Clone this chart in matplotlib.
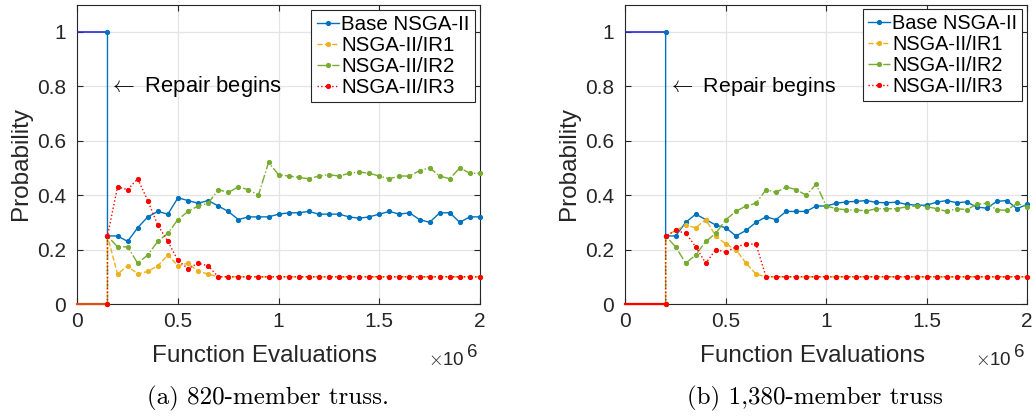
import matplotlib.pyplot as plt
from matplotlib.ticker import FixedLocator, FuncFormatter

# -----------------------------------------
# Data (function evaluations in millions)
# -----------------------------------------

# (a) 820-member truss, repair begins at 0.15e6
evals_a = [0.15, 0.20, 0.25, 0.30, 0.35, 0.40, 0.45, 0.50, 0.55, 0.60,
           0.65, 0.70, 0.75, 0.80, 0.85, 0.90, 0.95, 1.00, 1.05, 1.10,
           1.15, 1.20, 1.25, 1.30, 1.35, 1.40, 1.45, 1.50, 1.55, 1.60,
           1.65, 1.70, 1.75, 1.80, 1.85, 1.90, 1.95, 2.00]
base_a = [0.25, 0.25, 0.23, 0.28, 0.32, 0.34, 0.33, 0.39, 0.38, 0.37,
          0.38, 0.36, 0.34, 0.31, 0.32, 0.32, 0.32, 0.33, 0.335, 0.335,
          0.34, 0.33, 0.33, 0.33, 0.32, 0.315, 0.32, 0.33, 0.34, 0.33,
          0.335, 0.31, 0.30, 0.335, 0.335, 0.30, 0.32, 0.32]
ir1_a = [0.25, 0.11, 0.14, 0.11, 0.12, 0.14, 0.18, 0.14, 0.15, 0.12,
         0.11, 0.10, 0.10, 0.10, 0.10, 0.10, 0.10, 0.10, 0.10, 0.10,
         0.10, 0.10, 0.10, 0.10, 0.10, 0.10, 0.10, 0.10, 0.10, 0.10,
         0.10, 0.10, 0.10, 0.10, 0.10, 0.10, 0.10, 0.10]
ir2_a = [0.25, 0.21, 0.21, 0.15, 0.18, 0.23, 0.26, 0.31, 0.34, 0.36,
         0.37, 0.42, 0.41, 0.43, 0.42, 0.40, 0.52, 0.475, 0.47, 0.465,
         0.46, 0.47, 0.475, 0.47, 0.48, 0.485, 0.48, 0.47, 0.46, 0.47,
         0.47, 0.49, 0.50, 0.47, 0.46, 0.50, 0.48, 0.48]
ir3_a = [0.25, 0.43, 0.42, 0.46, 0.38, 0.29, 0.23, 0.16, 0.13, 0.15,
         0.14, 0.10, 0.10, 0.10, 0.10, 0.10, 0.10, 0.10, 0.10, 0.10,
         0.10, 0.10, 0.10, 0.10, 0.10, 0.10, 0.10, 0.10, 0.10, 0.10,
         0.10, 0.10, 0.10, 0.10, 0.10, 0.10, 0.10, 0.10]

# (b) 1,380-member truss, repair begins at 0.2e6
evals_b = [0.20, 0.25, 0.30, 0.35, 0.40, 0.45, 0.50, 0.55, 0.60, 0.65,
           0.70, 0.75, 0.80, 0.85, 0.90, 0.95, 1.00, 1.05, 1.10, 1.15,
           1.20, 1.25, 1.30, 1.35, 1.40, 1.45, 1.50, 1.55, 1.60, 1.65,
           1.70, 1.75, 1.80, 1.85, 1.90, 1.95, 2.00]
base_b = [0.25, 0.25, 0.30, 0.33, 0.31, 0.29, 0.28, 0.25, 0.27, 0.30,
          0.32, 0.31, 0.34, 0.34, 0.34, 0.36, 0.36, 0.37, 0.375, 0.377,
          0.38, 0.373, 0.372, 0.374, 0.366, 0.363, 0.363, 0.374, 0.38, 0.372,
          0.375, 0.356, 0.352, 0.377, 0.38, 0.35, 0.366]
ir1_b = [0.25, 0.27, 0.29, 0.28, 0.31, 0.25, 0.22, 0.20, 0.15, 0.11,
         0.10, 0.10, 0.10, 0.10, 0.10, 0.10, 0.10, 0.10, 0.10, 0.10,
         0.10, 0.10, 0.10, 0.10, 0.10, 0.10, 0.10, 0.10, 0.10, 0.10,
         0.10, 0.10, 0.10, 0.10, 0.10, 0.10, 0.10]
ir2_b = [0.25, 0.21, 0.15, 0.18, 0.23, 0.26, 0.31, 0.34, 0.36, 0.37,
         0.42, 0.41, 0.43, 0.42, 0.40, 0.44, 0.36, 0.35, 0.346, 0.345,
         0.342, 0.35, 0.35, 0.35, 0.357, 0.36, 0.358, 0.35, 0.34, 0.35,
         0.347, 0.366, 0.37, 0.346, 0.344, 0.37, 0.357]
ir3_b = [0.25, 0.27, 0.26, 0.21, 0.15, 0.20, 0.19, 0.21, 0.22, 0.22,
         0.10, 0.10, 0.10, 0.10, 0.10, 0.10, 0.10, 0.10, 0.10, 0.10,
         0.10, 0.10, 0.10, 0.10, 0.10, 0.10, 0.10, 0.10, 0.10, 0.10,
         0.10, 0.10, 0.10, 0.10, 0.10, 0.10, 0.10]

# probability of each operator before repair starts
pre_prob = [1.0, 0.0, 0.0, 0.0]

labels = ['Base NSGA-II', 'NSGA-II/IR1', 'NSGA-II/IR2', 'NSGA-II/IR3']
colors = ['#0072BD', '#EDB120', '#77AC30', '#FF0000']
styles = ['-', '--', '-.', ':']
captions = ['(a) 820-member truss.', '(b) 1,380-member truss']

x_ticks = [0, 0.5, 1, 1.5, 2]
y_ticks = [0, 0.2, 0.4, 0.6, 0.8, 1]

# -----------------------------------------
# Figure
# -----------------------------------------

plt.rcParams['font.family'] = ['Liberation Sans', 'DejaVu Sans']
plt.rcParams['mathtext.fontset'] = 'cm'

fig = plt.figure(figsize=(10.33, 4.18), dpi=100)
ax_a = fig.add_axes([0.0748, 0.2727, 0.3898, 0.7165])
ax_b = fig.add_axes([0.6055, 0.2727, 0.3887, 0.7165])

panels = [
    (ax_a, evals_a, [base_a, ir1_a, ir2_a, ir3_a], 14.8, 15.8, '#D95319'),
    (ax_b, evals_b, [base_b, ir1_b, ir2_b, ir3_b], 14.3, 15.4, '#FF0000'),
]

for i, (ax, ev, series, leg_fs, rep_fs, zero_col) in enumerate(panels):
    start = ev[0]

    # flat part before repair begins
    ax.plot([0, start], [pre_prob[0], pre_prob[0]], color='#2a2ad8',
            linewidth=1.2, zorder=3)
    ax.plot([0, start], [0, 0], color=zero_col, linewidth=1.6,
            clip_on=False, zorder=3)

    for k, ys in enumerate(series):
        ax.plot([start] + ev, [pre_prob[k]] + ys, linestyle=styles[k],
                color=colors[k], marker='.', markersize=5.5, linewidth=1.0,
                label=labels[k], clip_on=False, zorder=4)

    ax.set_xlim(0, 2)
    ax.set_ylim(0, 1.1)
    ax.xaxis.set_major_locator(FixedLocator(x_ticks))
    ax.yaxis.set_major_locator(FixedLocator(y_ticks))
    ax.xaxis.set_major_formatter(FuncFormatter(lambda v, p: f'{v:g}'))
    ax.yaxis.set_major_formatter(FuncFormatter(lambda v, p: f'{v:g}'))
    ax.tick_params(direction='in', top=True, right=True, labelsize=15,
                   length=4, width=0.8, color='#262626', labelcolor='#262626')
    ax.tick_params(axis='x', pad=6)
    ax.tick_params(axis='y', pad=8)
    ax.grid(True, color='#e4e4e4', linewidth=0.9, zorder=0)
    ax.set_axisbelow(True)
    for sp in ax.spines.values():
        sp.set_color('#262626')
        sp.set_linewidth(0.8)

    ax.set_xlabel('Function Evaluations', fontsize=17.5, va='baseline',
                  color='#262626')
    ax.xaxis.set_label_coords(0.466, -0.1937)
    ax.set_ylabel('Probability', fontsize=17.5, color='#262626')
    ax.yaxis.set_label_coords(-0.1125, 0.47)

    # MATLAB-style exponent label
    ax.text(0.963, -0.2037, r'$\times$10', transform=ax.transAxes,
            ha='right', va='baseline', fontsize=13.5, color='#262626')
    ax.text(0.968, -0.177, '6', transform=ax.transAxes,
            ha='left', va='baseline', fontsize=13.5, color='#262626')

    ax.text(start + 0.01, 0.8, r'$\leftarrow$ Repair begins', fontsize=rep_fs,
            va='center', ha='left', color='black')

    leg = ax.legend(loc='upper right', fontsize=leg_fs, handlelength=1.1,
                    handletextpad=0.1, borderpad=0.25, labelspacing=0.1,
                    borderaxespad=0.25, fancybox=False, framealpha=1,
                    edgecolor='#262626')
    leg.get_frame().set_linewidth(0.8)

    ax.text(0.473, -0.337, captions[i], transform=ax.transAxes, ha='center',
            va='baseline', fontsize=18, family='cmr10')

fig.savefig('out.png', dpi=100)
